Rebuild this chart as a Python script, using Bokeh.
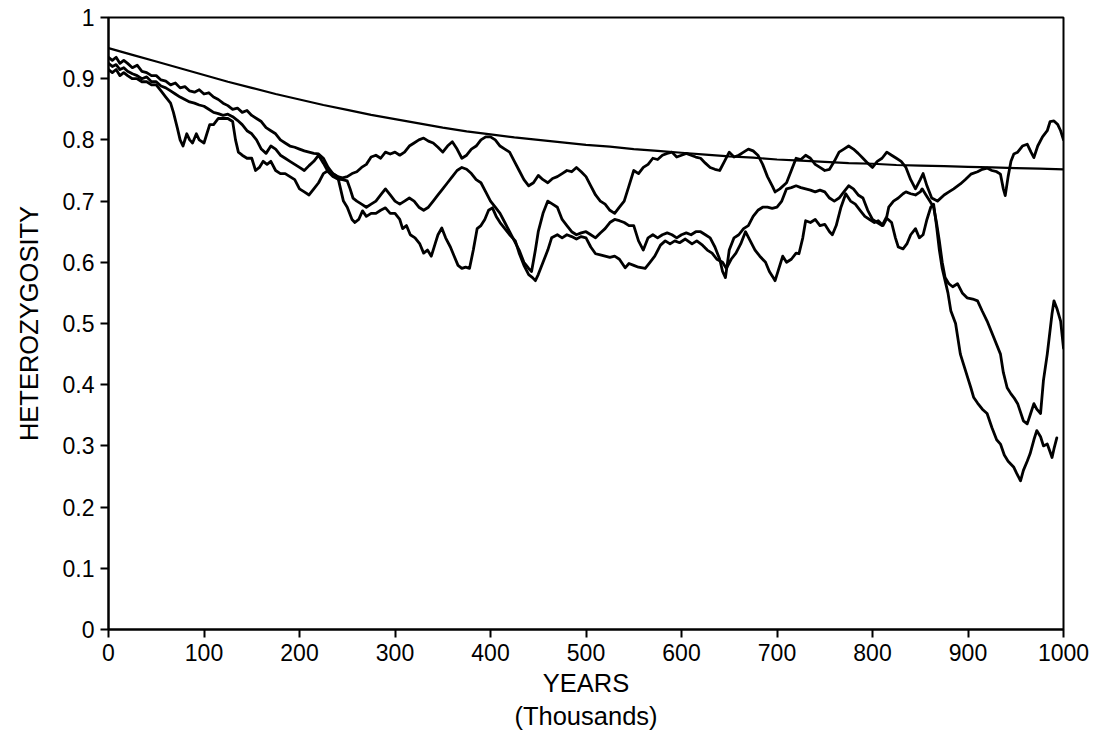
from bokeh.plotting import figure
from bokeh.models import Range1d, FixedTicker, Title
from bokeh.embed import file_html
from bokeh.resources import INLINE

# ---------------- data ----------------
x_ticks = [0, 100, 200, 300, 400, 500, 600, 700, 800, 900, 1000]
y_ticks = [0, 0.1, 0.2, 0.3, 0.4, 0.5, 0.6, 0.7, 0.8, 0.9, 1]
y_tick_labels = ["0", "0.1", "0.2", "0.3", "0.4", "0.5", "0.6", "0.7", "0.8", "0.9", "1"]

# expected (smooth) heterozygosity curve
exp_years = [0, 25, 50, 75, 100, 125, 150, 175, 200, 225, 250, 275, 300, 325, 350, 375,
             400, 425, 450, 475, 500, 525, 550, 575, 600, 625, 650, 675, 700, 725, 750,
             775, 800, 825, 850, 875, 900, 925, 950, 975, 1000]
exp_het = [0.950, 0.939, 0.928, 0.917, 0.906, 0.895, 0.885, 0.875, 0.866, 0.857, 0.849,
           0.841, 0.834, 0.827, 0.820, 0.814, 0.809, 0.804, 0.800, 0.796, 0.792, 0.789,
           0.785, 0.782, 0.779, 0.776, 0.773, 0.771, 0.768, 0.766, 0.764, 0.762, 0.761,
           0.759, 0.758, 0.757, 0.756, 0.755, 0.754, 0.753, 0.752]

# simulated run 1 (ends high)
run1_years = [0, 4, 8, 12, 16, 20, 25, 30, 35, 40, 45, 50, 55, 60, 65, 70, 75, 80, 85, 90,
              95, 100, 105, 110, 115, 120, 125, 130, 135, 140, 145, 150, 155, 160, 165, 170,
              175, 180, 185, 190, 195, 200, 205, 210, 215, 220, 225, 230, 235, 240, 245, 250,
              255, 260, 265, 270, 275, 280, 285, 290, 295, 300, 305, 310, 315, 320, 325, 330,
              335, 340, 345, 350, 355, 360, 365, 370, 375, 380, 385, 390, 395, 400, 405, 410,
              415, 420, 425, 430, 435, 440, 445, 450, 455, 460, 465, 470, 475, 480, 485, 490,
              495, 500, 505, 510, 515, 520, 525, 530, 535, 540, 545, 550, 555, 560, 565, 570,
              575, 580, 585, 590, 595, 600, 605, 610, 615, 620, 625, 630, 635, 640, 645, 650,
              655, 660, 665, 670, 675, 680, 685, 690, 695, 698, 703, 710, 715, 720, 725, 730,
              735, 740, 745, 750, 755, 760, 765, 770, 775, 780, 785, 790, 795, 800, 805, 810,
              815, 820, 825, 830, 835, 840, 845, 850, 853, 857, 862, 868, 875, 880, 885, 892,
              897, 903, 910, 915, 920, 925, 930, 934, 937, 939, 942, 945, 948, 952, 957, 962,
              966, 969, 973, 978, 983, 986, 990, 994, 997, 1000]
run1_het = [0.935, 0.930, 0.935, 0.925, 0.930, 0.925, 0.918, 0.922, 0.912, 0.910, 0.905, 0.905,
            0.898, 0.896, 0.890, 0.893, 0.885, 0.887, 0.880, 0.878, 0.882, 0.875, 0.877, 0.870,
            0.866, 0.860, 0.856, 0.850, 0.852, 0.845, 0.848, 0.840, 0.835, 0.830, 0.820, 0.815,
            0.810, 0.800, 0.795, 0.790, 0.788, 0.785, 0.782, 0.780, 0.778, 0.777, 0.770, 0.755,
            0.745, 0.740, 0.738, 0.740, 0.745, 0.748, 0.755, 0.760, 0.772, 0.775, 0.770, 0.780,
            0.777, 0.780, 0.775, 0.780, 0.790, 0.795, 0.800, 0.803, 0.798, 0.795, 0.788, 0.780,
            0.790, 0.797, 0.785, 0.770, 0.775, 0.785, 0.790, 0.800, 0.805, 0.805, 0.800, 0.790,
            0.785, 0.780, 0.765, 0.750, 0.735, 0.725, 0.730, 0.742, 0.735, 0.730, 0.737, 0.740,
            0.745, 0.750, 0.748, 0.755, 0.748, 0.740, 0.725, 0.710, 0.700, 0.695, 0.685, 0.680,
            0.690, 0.700, 0.725, 0.750, 0.745, 0.755, 0.760, 0.770, 0.768, 0.775, 0.778, 0.780,
            0.772, 0.775, 0.778, 0.775, 0.772, 0.770, 0.762, 0.755, 0.752, 0.750, 0.765, 0.780,
            0.772, 0.775, 0.780, 0.785, 0.782, 0.775, 0.760, 0.740, 0.725, 0.715, 0.720, 0.730,
            0.750, 0.770, 0.768, 0.775, 0.770, 0.760, 0.755, 0.750, 0.752, 0.765, 0.780, 0.785,
            0.790, 0.785, 0.778, 0.770, 0.762, 0.755, 0.765, 0.770, 0.780, 0.775, 0.770, 0.765,
            0.755, 0.735, 0.720, 0.735, 0.745, 0.725, 0.705, 0.700, 0.710, 0.715, 0.720, 0.728,
            0.735, 0.744, 0.748, 0.752, 0.754, 0.750, 0.748, 0.744, 0.720, 0.709, 0.740, 0.765,
            0.777, 0.780, 0.790, 0.793, 0.780, 0.771, 0.790, 0.805, 0.815, 0.830, 0.831, 0.825,
            0.815, 0.800]

# simulated run 2 (drops, then recovers near the end)
run2_years = [0, 4, 8, 12, 16, 20, 25, 30, 35, 40, 45, 50, 55, 60, 65, 70, 75, 80, 85, 90,
              95, 100, 105, 110, 115, 120, 125, 130, 135, 140, 145, 150, 155, 160, 165, 170,
              175, 180, 185, 190, 195, 200, 205, 210, 215, 220, 225, 230, 235, 240, 245, 250,
              253, 256, 260, 265, 270, 275, 280, 285, 290, 295, 300, 305, 310, 315, 320, 325,
              330, 335, 340, 345, 350, 355, 360, 365, 370, 375, 380, 385, 390, 395, 400, 405,
              410, 415, 420, 425, 430, 435, 440, 443, 447, 450, 455, 460, 465, 470, 475, 480,
              485, 490, 495, 500, 505, 510, 515, 520, 525, 530, 535, 540, 545, 550, 555, 560,
              565, 570, 575, 580, 585, 590, 595, 600, 605, 610, 615, 620, 625, 630, 635, 640,
              643, 646, 650, 655, 660, 665, 670, 675, 680, 685, 690, 695, 700, 705, 710, 715,
              720, 725, 730, 735, 740, 745, 750, 755, 760, 765, 770, 775, 780, 785, 790, 795,
              800, 805, 810, 815, 817, 822, 827, 832, 835, 840, 845, 850, 852, 856, 860, 864,
              867, 870, 873, 876, 880, 884, 889, 894, 899, 905, 910, 915, 920, 927, 934, 937,
              941, 945, 948, 952, 958, 962, 965, 969, 972, 976, 979, 983, 988, 990, 993, 997,
              1000]
run2_het = [0.925, 0.920, 0.923, 0.915, 0.918, 0.912, 0.908, 0.905, 0.900, 0.903, 0.895, 0.895,
            0.888, 0.885, 0.880, 0.875, 0.870, 0.866, 0.862, 0.860, 0.857, 0.855, 0.850, 0.845,
            0.843, 0.840, 0.842, 0.838, 0.832, 0.825, 0.815, 0.810, 0.800, 0.785, 0.778, 0.790,
            0.785, 0.775, 0.770, 0.765, 0.760, 0.755, 0.750, 0.758, 0.765, 0.775, 0.762, 0.748,
            0.740, 0.736, 0.735, 0.733, 0.720, 0.705, 0.700, 0.695, 0.690, 0.695, 0.700, 0.710,
            0.720, 0.710, 0.700, 0.695, 0.700, 0.705, 0.700, 0.690, 0.685, 0.690, 0.700, 0.710,
            0.720, 0.730, 0.740, 0.750, 0.755, 0.752, 0.745, 0.735, 0.730, 0.715, 0.700, 0.690,
            0.680, 0.665, 0.650, 0.635, 0.620, 0.600, 0.590, 0.585, 0.620, 0.650, 0.680, 0.700,
            0.695, 0.690, 0.670, 0.660, 0.650, 0.645, 0.648, 0.650, 0.645, 0.640, 0.648, 0.655,
            0.665, 0.670, 0.668, 0.665, 0.660, 0.660, 0.635, 0.620, 0.640, 0.645, 0.640, 0.645,
            0.648, 0.645, 0.640, 0.645, 0.648, 0.645, 0.650, 0.650, 0.645, 0.640, 0.625, 0.605,
            0.585, 0.575, 0.620, 0.640, 0.645, 0.655, 0.660, 0.675, 0.685, 0.690, 0.690, 0.688,
            0.690, 0.700, 0.720, 0.722, 0.725, 0.722, 0.720, 0.718, 0.715, 0.718, 0.715, 0.705,
            0.700, 0.705, 0.715, 0.725, 0.720, 0.710, 0.705, 0.685, 0.670, 0.665, 0.660, 0.675,
            0.690, 0.700, 0.705, 0.712, 0.715, 0.712, 0.710, 0.715, 0.720, 0.710, 0.700, 0.690,
            0.665, 0.635, 0.600, 0.575, 0.565, 0.560, 0.565, 0.550, 0.542, 0.540, 0.537, 0.520,
            0.504, 0.477, 0.450, 0.420, 0.395, 0.385, 0.379, 0.369, 0.341, 0.336, 0.350, 0.369,
            0.360, 0.353, 0.407, 0.450, 0.516, 0.537, 0.525, 0.504, 0.460]

# simulated run 3 (deepest drop)
run3_years = [0, 4, 8, 12, 16, 20, 25, 30, 35, 40, 45, 50, 55, 60, 65, 68, 72, 75, 78, 82,
              85, 88, 92, 95, 100, 103, 106, 110, 115, 120, 125, 130, 133, 136, 140, 145, 150,
              154, 158, 162, 166, 170, 175, 180, 185, 190, 195, 200, 205, 210, 215, 220, 225,
              230, 235, 240, 243, 246, 250, 255, 258, 262, 266, 270, 275, 280, 285, 290, 295,
              300, 305, 308, 312, 316, 321, 326, 330, 334, 338, 342, 345, 349, 353, 358, 362,
              366, 370, 374, 378, 382, 386, 390, 394, 398, 402, 406, 410, 415, 420, 426, 430,
              435, 440, 444, 447, 450, 455, 460, 464, 470, 475, 480, 485, 490, 495, 500, 505,
              510, 515, 520, 525, 530, 535, 541, 545, 550, 555, 562, 567, 572, 578, 583, 588,
              593, 598, 604, 611, 616, 622, 627, 632, 637, 643, 647, 652, 657, 662, 667, 672,
              677, 682, 688, 692, 696, 698, 702, 706, 710, 715, 720, 723, 727, 730, 735, 740,
              745, 750, 755, 758, 762, 767, 772, 777, 782, 787, 792, 797, 802, 806, 811, 815,
              820, 824, 827, 832, 836, 840, 845, 849, 853, 857, 861, 864, 867, 870, 873, 876,
              879, 882, 887, 892, 896, 900, 903, 906, 910, 915, 920, 925, 930, 934, 938, 942,
              945, 948, 951, 955, 958, 962, 965, 969, 972, 976, 979, 983, 986, 988, 990, 993]
run3_het = [0.915, 0.910, 0.915, 0.905, 0.910, 0.905, 0.900, 0.900, 0.895, 0.895, 0.890, 0.890,
            0.880, 0.870, 0.860, 0.845, 0.820, 0.800, 0.790, 0.810, 0.800, 0.795, 0.810, 0.800,
            0.795, 0.810, 0.825, 0.825, 0.835, 0.835, 0.835, 0.830, 0.800, 0.780, 0.775, 0.770,
            0.770, 0.750, 0.755, 0.765, 0.760, 0.765, 0.750, 0.745, 0.745, 0.740, 0.735, 0.720,
            0.715, 0.710, 0.720, 0.730, 0.745, 0.750, 0.745, 0.740, 0.720, 0.700, 0.690, 0.670,
            0.665, 0.670, 0.684, 0.675, 0.680, 0.680, 0.685, 0.689, 0.680, 0.680, 0.670, 0.655,
            0.660, 0.645, 0.640, 0.630, 0.615, 0.620, 0.610, 0.630, 0.645, 0.656, 0.640, 0.625,
            0.610, 0.595, 0.590, 0.592, 0.590, 0.620, 0.655, 0.660, 0.670, 0.685, 0.689, 0.675,
            0.665, 0.655, 0.645, 0.635, 0.615, 0.595, 0.580, 0.575, 0.570, 0.580, 0.600, 0.620,
            0.640, 0.645, 0.640, 0.645, 0.642, 0.638, 0.642, 0.640, 0.625, 0.614, 0.612, 0.610,
            0.608, 0.610, 0.605, 0.591, 0.598, 0.595, 0.592, 0.590, 0.600, 0.610, 0.628, 0.635,
            0.630, 0.635, 0.632, 0.638, 0.630, 0.635, 0.628, 0.620, 0.615, 0.605, 0.600, 0.590,
            0.605, 0.615, 0.630, 0.650, 0.635, 0.620, 0.610, 0.600, 0.585, 0.575, 0.570, 0.590,
            0.610, 0.600, 0.605, 0.615, 0.614, 0.640, 0.668, 0.665, 0.670, 0.660, 0.662, 0.650,
            0.645, 0.660, 0.690, 0.712, 0.700, 0.695, 0.685, 0.675, 0.670, 0.665, 0.668, 0.660,
            0.672, 0.665, 0.640, 0.625, 0.622, 0.630, 0.645, 0.655, 0.640, 0.645, 0.670, 0.690,
            0.695, 0.660, 0.620, 0.590, 0.570, 0.550, 0.521, 0.500, 0.450, 0.430, 0.410, 0.395,
            0.379, 0.370, 0.360, 0.353, 0.330, 0.310, 0.303, 0.285, 0.275, 0.270, 0.265, 0.255,
            0.243, 0.260, 0.275, 0.287, 0.310, 0.325, 0.315, 0.300, 0.303, 0.290, 0.281, 0.295,
            0.313]

x_title = "YEARS"
x_subtitle = "(Thousands)"
y_title = "HETEROZYGOSITY"

# ---------------- figure ----------------
FONT = "Liberation Sans"
TITLE_SIZE = "25.5px"
p = figure(width=1098, height=733,
           x_range=Range1d(0, 1000), y_range=Range1d(0, 1),
           output_backend="svg", toolbar_location=None,
           min_border_left=108, min_border_right=35,
           min_border_top=17, min_border_bottom=104)
p.background_fill_color = "white"
p.border_fill_color = "white"
p.xgrid.visible = False
p.ygrid.visible = False
p.outline_line_color = "black"
p.outline_line_width = 2
p.outline_line_alpha = 1.0

p.xaxis.ticker = FixedTicker(ticks=x_ticks)
p.yaxis.ticker = FixedTicker(ticks=y_ticks)
p.yaxis.major_label_overrides = {t: l for t, l in zip(y_ticks, y_tick_labels)}

for ax in (p.xaxis, p.yaxis):
    ax.axis_line_color = "black"
    ax.axis_line_width = 2
    ax.major_tick_line_color = "black"
    ax.major_tick_line_width = 2
    ax.major_tick_in = 0
    ax.major_tick_out = 8
    ax.minor_tick_line_color = None
    ax.major_label_text_font = FONT
    ax.major_label_text_font_size = "23px"
    ax.major_label_text_color = "black"
    ax.axis_label_text_font = FONT
    ax.axis_label_text_font_size = TITLE_SIZE
    ax.axis_label_text_font_style = "normal"
    ax.axis_label_text_color = "black"
p.xaxis.major_label_standoff = 6
p.yaxis.major_label_standoff = 6
p.xaxis.axis_label = x_title
p.yaxis.axis_label = y_title
p.xaxis.axis_label_standoff = 5
p.yaxis.axis_label_standoff = 17

p.add_layout(Title(text=x_subtitle, align="center", text_font=FONT,
                   text_font_size=TITLE_SIZE, text_font_style="normal",
                   text_color="black", standoff=0, offset=0), "below")

line_kw = dict(line_color="black", line_join="round", line_cap="round")
p.line(exp_years, exp_het, line_width=2.2, **line_kw)
p.line(run1_years, run1_het, line_width=2.8, **line_kw)
p.line(run2_years, run2_het, line_width=2.8, **line_kw)
p.line(run3_years, run3_het, line_width=2.8, **line_kw)

open("out.html", "w").write(file_html(p, INLINE))
